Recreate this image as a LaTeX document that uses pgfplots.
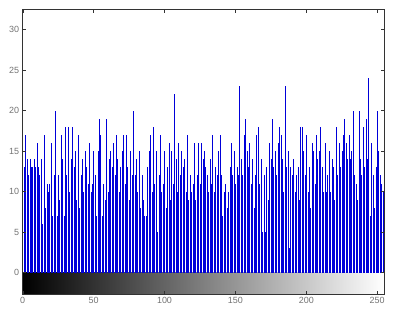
\documentclass[border=0pt]{standalone}
\usepackage{pgfplots}
\pgfplotsset{compat=1.18}
\usepackage{fontspec}
\setmainfont{Liberation Sans}
\begin{document}
\begin{tikzpicture}
\begin{axis}[
    scale only axis,
    width=361.6bp, height=284.7bp,
    xmin=0, xmax=255, ymin=-2.63, ymax=32.5,
    xtick={0,50,...,250},
    ytick={0,5,...,30},
    tick align=inside,
    major tick length=3.5bp,
    tick style={black!80, line width=0.4pt},
    axis line style={black!80, line width=0.5pt},
    ticklabel style={font=\fontsize{9}{10}\selectfont, text=black!55},
    /pgf/number format/assume math mode=true,
    axis on top,
    clip=true
]
\fill[left color=black, right color=white] (axis cs:0,-2.63) rectangle (axis cs:255,0);
\addplot[ycomb, blue!85!black, line width=0.45pt] coordinates {
(0,15)(1,13)(2,17)(3,14)(4,12)(5,14)(6,13)(7,13)(8,14)(9,13)(10,16)(11,13)(12,12)(13,14)(14,6)(15,17)
(16,8)(17,11)(18,10)(19,11)(20,16)(21,7)(22,12)(23,20)(24,7)(25,12)(26,9)(27,17)(28,14)(29,7)(30,18)(31,12)
(32,18)(33,10)(34,14)(35,18)(36,13)(37,15)(38,9)(39,17)(40,8)(41,12)(42,14)(43,10)(44,15)(45,13)(46,11)(47,16)
(48,10)(49,11)(50,15)(51,12)(52,7)(53,15)(54,19)(55,17)(56,7)(57,11)(58,9)(59,19)(60,10)(61,14)(62,15)(63,13)
(64,16)(65,12)(66,17)(67,14)(68,10)(69,13)(70,15)(71,17)(72,11)(73,17)(74,13)(75,9)(76,15)(77,12)(78,20)(79,12)
(80,14)(81,10)(82,15)(83,8)(84,12)(85,9)(86,7)(87,7)(88,13)(89,15)(90,17)(91,10)(92,18)(93,11)(94,15)(95,5)
(96,12)(97,17)(98,10)(99,11)(100,15)(101,8)(102,13)(103,16)(104,9)(105,15)(106,11)(107,22)(108,14)(109,10)(110,16)(111,12)
(112,15)(113,13)(114,14)(115,10)(116,17)(117,9)(118,12)(119,10)(120,11)(121,16)(122,9)(123,12)(124,16)(125,11)(126,16)(127,14)
(128,15)(129,13)(130,12)(131,10)(132,14)(133,11)(134,17)(135,10)(136,13)(137,12)(138,15)(139,17)(140,12)(141,7)(142,10)(143,11)
(144,8)(145,10)(146,13)(147,16)(148,12)(149,15)(150,11)(151,13)(152,12)(153,23)(154,14)(155,12)(156,17)(157,19)(158,15)(159,13)
(160,16)(161,11)(162,14)(163,8)(164,12)(165,17)(166,18)(167,11)(168,14)(169,5)(170,12)(171,5)(172,13)(173,9)(174,16)(175,14)
(176,19)(177,13)(178,15)(179,12)(180,16)(181,18)(182,17)(183,14)(184,10)(185,23)(186,13)(187,15)(188,3)(189,13)(190,12)(191,14)
(192,10)(193,12)(194,13)(195,9)(196,18)(197,18)(198,15)(199,12)(200,17)(201,10)(202,13)(203,8)(204,16)(205,15)(206,11)(207,17)
(208,14)(209,15)(210,18)(211,13)(212,10)(213,16)(214,10)(215,12)(216,15)(217,10)(218,14)(219,13)(220,9)(221,18)(222,12)(223,16)
(224,13)(225,15)(226,17)(227,19)(228,16)(229,14)(230,17)(231,14)(232,15)(233,20)(234,12)(235,11)(236,9)(237,20)(238,14)(239,12)
(240,18)(241,13)(242,19)(243,14)(244,24)(245,7)(246,16)(247,12)(248,8)(249,13)(250,20)(251,15)(252,12)(253,11)(254,10)(255,10)
};
\end{axis}
\path ([shift={(-22.7bp,-23bp)}]current axis.south west) rectangle ([shift={(11.7bp,9.3bp)}]current axis.north east);
\end{tikzpicture}
\end{document}
